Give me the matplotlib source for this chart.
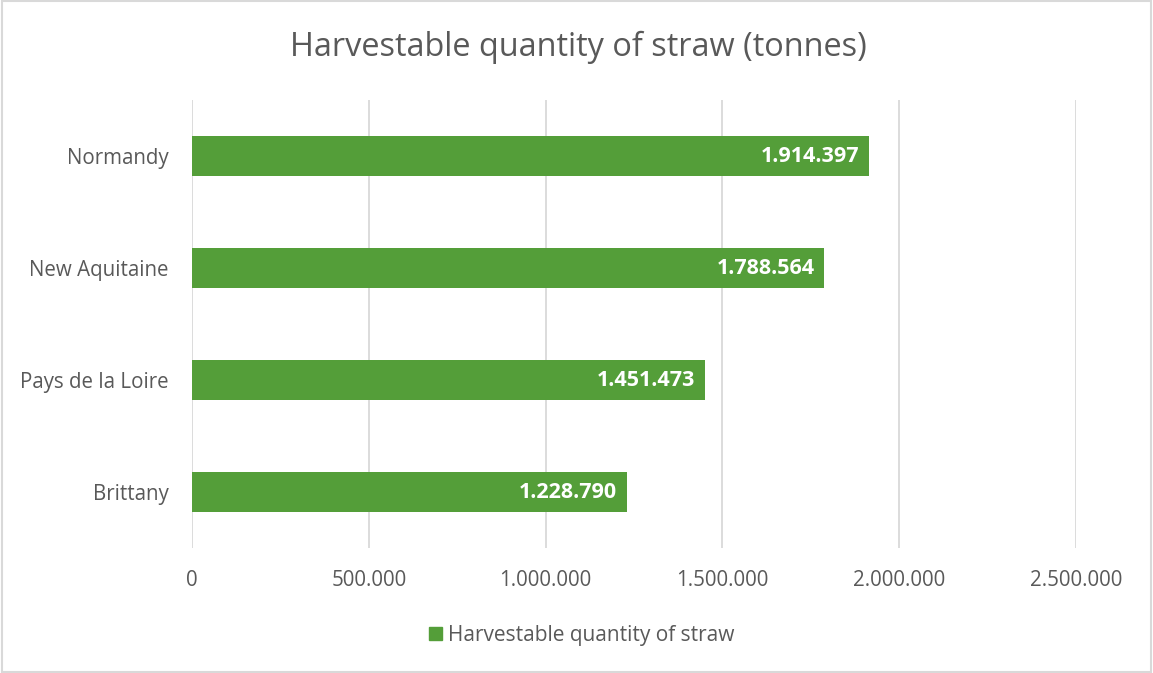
import matplotlib.pyplot as plt
from matplotlib.patches import Rectangle, Patch
from matplotlib.ticker import FuncFormatter

regions = ['Brittany', 'Pays de la Loire', 'New Aquitaine', 'Normandy']
straw = [1228790, 1451473, 1788564, 1914397]
xticks = [0, 500000, 1000000, 1500000, 2000000, 2500000]

green = '#549E39'
grey_text = '#595959'
grid_col = '#D9D9D9'


def dotted(v, pos=None):
    return f"{int(v):,}".replace(',', '.')


plt.rcParams['font.family'] = ['Open Sans', 'DejaVu Sans']

fig = plt.figure(figsize=(11.53, 6.73), dpi=100)
ax = fig.add_axes([192 / 1153, 1 - 548 / 673, (1076 - 192) / 1153, 448 / 673])

bars = ax.barh(regions, straw, height=0.36, color=green, zorder=3)
for b, v in zip(bars, straw):
    ax.text(b.get_width() - 28000, b.get_y() + b.get_height() / 2, dotted(v),
            ha='right', va='center', color='white', fontsize=15.5, fontweight='bold', zorder=4)

ax.set_xlim(0, 2500000)
ax.set_ylim(-0.5, 3.5)
ax.set_xticks(xticks)
ax.xaxis.set_major_formatter(FuncFormatter(dotted))
ax.grid(axis='x', color=grid_col, linewidth=1.3, zorder=0)
for s in ax.spines.values():
    s.set_visible(False)
ax.tick_params(axis='both', length=0, colors=grey_text, labelsize=14.8)
ax.tick_params(axis='x', pad=16)
ax.tick_params(axis='y', pad=17)

fig.text(578 / 1153, 1 - 47 / 673, 'Harvestable quantity of straw (tonnes)',
         ha='center', va='center', fontsize=23.4, color=grey_text)

fig.legend(handles=[Patch(color=green, label='Harvestable quantity of straw')],
           loc='center', bbox_to_anchor=(582 / 1153, 1 - 635 / 673), frameon=False,
           fontsize=15, labelcolor=grey_text, handlelength=0.6, handleheight=0.6,
           handletextpad=0.3)

fig.patches.append(Rectangle((0.002, 0.002), 0.996, 0.996, transform=fig.transFigure,
                             fill=False, edgecolor=grid_col, linewidth=1.5))

fig.savefig('out.png', dpi=100)
